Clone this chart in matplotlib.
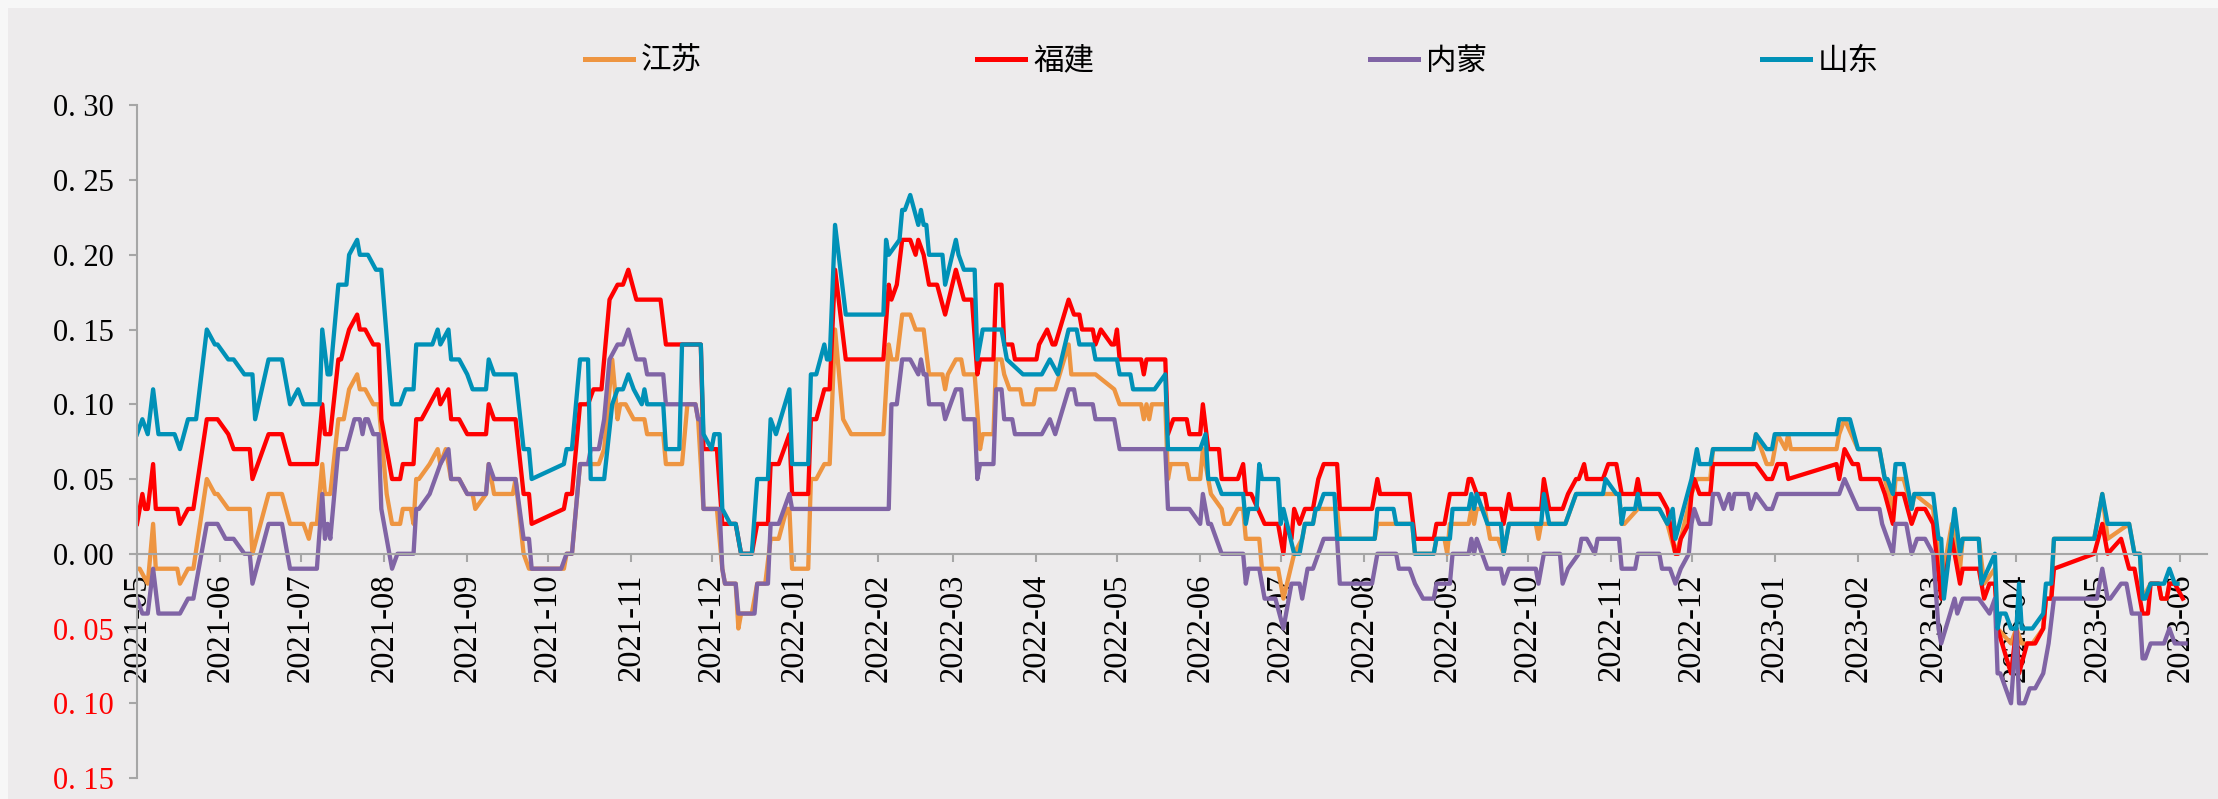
import matplotlib
matplotlib.use("Agg")
import matplotlib.pyplot as plt
import matplotlib.dates as mdates
import pandas as pd
from matplotlib.patches import Rectangle
from matplotlib.font_manager import FontProperties

# 江苏
js_dates = [
    "2021-05-01", "2021-05-02", "2021-05-05", "2021-05-07", "2021-05-08", "2021-05-16", "2021-05-17",
    "2021-05-20", "2021-05-22", "2021-05-27", "2021-05-30", "2021-05-31", "2021-06-04", "2021-06-12",
    "2021-06-13", "2021-06-19", "2021-06-24", "2021-06-27", "2021-07-02", "2021-07-04", "2021-07-05",
    "2021-07-07", "2021-07-09", "2021-07-10", "2021-07-12", "2021-07-15", "2021-07-17", "2021-07-19",
    "2021-07-22", "2021-07-23", "2021-07-25", "2021-07-28", "2021-07-30", "2021-08-02", "2021-08-04",
    "2021-08-07", "2021-08-08", "2021-08-11", "2021-08-12", "2021-08-13", "2021-08-14", "2021-08-18",
    "2021-08-21", "2021-08-22", "2021-08-24", "2021-08-26", "2021-08-29", "2021-09-01", "2021-09-03",
    "2021-09-04", "2021-09-08", "2021-09-09", "2021-09-11", "2021-09-18", "2021-09-19", "2021-09-22",
    "2021-09-24", "2021-10-07", "2021-10-08", "2021-10-10", "2021-10-13", "2021-10-20", "2021-10-22",
    "2021-10-25", "2021-10-27", "2021-10-28", "2021-10-30", "2021-11-02", "2021-11-06", "2021-11-07",
    "2021-11-13", "2021-11-14", "2021-11-20", "2021-11-22", "2021-11-25", "2021-11-26", "2021-11-28",
    "2021-12-03", "2021-12-05", "2021-12-06", "2021-12-10", "2021-12-11", "2021-12-12", "2021-12-16",
    "2021-12-18", "2021-12-21", "2021-12-23", "2021-12-26", "2021-12-29", "2021-12-30", "2021-12-31",
    "2022-01-06", "2022-01-07", "2022-01-09", "2022-01-12", "2022-01-14", "2022-01-16", "2022-01-19",
    "2022-01-22", "2022-02-03", "2022-02-05", "2022-02-06", "2022-02-08", "2022-02-10", "2022-02-13",
    "2022-02-15", "2022-02-18", "2022-02-20", "2022-02-25", "2022-02-26", "2022-02-27", "2022-03-02",
    "2022-03-04", "2022-03-05", "2022-03-09", "2022-03-11", "2022-03-12", "2022-03-16", "2022-03-17",
    "2022-03-19", "2022-03-20", "2022-03-22", "2022-03-26", "2022-03-27", "2022-03-31", "2022-04-01",
    "2022-04-08", "2022-04-13", "2022-04-14", "2022-04-23", "2022-04-30", "2022-05-02", "2022-05-10",
    "2022-05-11", "2022-05-12", "2022-05-13", "2022-05-14", "2022-05-19", "2022-05-20", "2022-05-21",
    "2022-05-27", "2022-05-28", "2022-06-01", "2022-06-02", "2022-06-04", "2022-06-05", "2022-06-09",
    "2022-06-10", "2022-06-12", "2022-06-15", "2022-06-17", "2022-06-18", "2022-06-23", "2022-06-24",
    "2022-06-30", "2022-07-02", "2022-07-06", "2022-07-09", "2022-07-10", "2022-07-13", "2022-07-14",
    "2022-07-22", "2022-07-23", "2022-08-05", "2022-08-06", "2022-08-19", "2022-08-20", "2022-08-27",
    "2022-08-28", "2022-08-31", "2022-09-01", "2022-09-02", "2022-09-09", "2022-09-10", "2022-09-11",
    "2022-09-12", "2022-09-15", "2022-09-17", "2022-09-20", "2022-09-22", "2022-09-24", "2022-10-04",
    "2022-10-05", "2022-10-06", "2022-10-09", "2022-10-15", "2022-10-19", "2022-10-29", "2022-11-04",
    "2022-11-05", "2022-11-06", "2022-11-11", "2022-11-19", "2022-11-22", "2022-11-25", "2022-11-27",
    "2022-12-01", "2022-12-03", "2022-12-08", "2022-12-09", "2022-12-24", "2022-12-25", "2022-12-29",
    "2022-12-31", "2023-01-02", "2023-01-05", "2023-01-06", "2023-01-07", "2023-01-24", "2023-01-25",
    "2023-01-27", "2023-02-01", "2023-02-09", "2023-02-11", "2023-02-14", "2023-02-15", "2023-02-18",
    "2023-02-21", "2023-02-22", "2023-03-01", "2023-03-04", "2023-03-08", "2023-03-11", "2023-03-12",
    "2023-03-18", "2023-03-20", "2023-03-24", "2023-03-25", "2023-03-30", "2023-04-01", "2023-04-03",
    "2023-04-07", "2023-04-11", "2023-04-12", "2023-04-14", "2023-04-15", "2023-04-30", "2023-05-03",
    "2023-05-05", "2023-05-13", "2023-05-15", "2023-05-17", "2023-05-18", "2023-05-21", "2023-05-24",
    "2023-05-25", "2023-05-27", "2023-05-28", "2023-05-31",
]
js_vals = [
    -0.01, -0.01, -0.02, 0.02, -0.01, -0.01, -0.02,
    -0.01, -0.01, 0.05, 0.04, 0.04, 0.03, 0.03,
    0.00, 0.04, 0.04, 0.02, 0.02, 0.01, 0.02,
    0.02, 0.06, 0.04, 0.04, 0.09, 0.09, 0.11,
    0.12, 0.11, 0.11, 0.10, 0.10, 0.04, 0.02,
    0.02, 0.03, 0.03, 0.02, 0.05, 0.05, 0.06,
    0.07, 0.06, 0.07, 0.05, 0.05, 0.04, 0.04,
    0.03, 0.04, 0.06, 0.04, 0.04, 0.05, 0.00,
    -0.01, -0.01, 0.00, 0.00, 0.06, 0.06, 0.07,
    0.13, 0.09, 0.10, 0.10, 0.09, 0.09, 0.08,
    0.08, 0.06, 0.06, 0.10, 0.10, 0.09, 0.03,
    0.03, -0.01, -0.02, -0.02, -0.05, -0.04, -0.04,
    -0.02, -0.02, 0.01, 0.01, 0.03, 0.03, -0.01,
    -0.01, 0.05, 0.05, 0.06, 0.06, 0.15, 0.09,
    0.08, 0.08, 0.14, 0.13, 0.13, 0.16, 0.16,
    0.15, 0.15, 0.12, 0.12, 0.11, 0.12, 0.13,
    0.13, 0.12, 0.12, 0.07, 0.08, 0.08, 0.13,
    0.13, 0.12, 0.11, 0.11, 0.10, 0.10, 0.11,
    0.11, 0.14, 0.12, 0.12, 0.11, 0.10, 0.10,
    0.09, 0.10, 0.09, 0.10, 0.10, 0.05, 0.06,
    0.06, 0.05, 0.05, 0.07, 0.05, 0.04, 0.03,
    0.02, 0.02, 0.03, 0.03, 0.01, 0.01, -0.01,
    -0.01, -0.03, 0.00, 0.01, 0.02, 0.02, 0.03,
    0.03, 0.01, 0.01, 0.02, 0.02, 0.00, 0.00,
    0.01, 0.01, 0.00, 0.02, 0.02, 0.03, 0.02,
    0.03, 0.03, 0.01, 0.01, 0.00, 0.02, 0.02,
    0.01, 0.02, 0.02, 0.02, 0.04, 0.04, 0.04,
    0.02, 0.02, 0.03, 0.03, 0.02, 0.00, 0.01,
    0.04, 0.05, 0.05, 0.07, 0.07, 0.08, 0.06,
    0.06, 0.08, 0.07, 0.08, 0.07, 0.07, 0.08,
    0.09, 0.07, 0.07, 0.05, 0.03, 0.05, 0.05,
    0.03, 0.04, 0.03, -0.02, 0.02, -0.01, 0.01,
    0.01, -0.02, -0.01, -0.05, -0.06, -0.05, -0.06,
    -0.06, -0.05, -0.03, -0.03, 0.01, 0.01, 0.04,
    0.01, 0.02, 0.00, 0.00, -0.03, -0.02, -0.02,
    -0.03, -0.03, -0.02, -0.02,
]

# 福建
fj_dates = [
    "2021-05-01", "2021-05-03", "2021-05-04", "2021-05-05", "2021-05-07", "2021-05-08", "2021-05-16",
    "2021-05-17", "2021-05-20", "2021-05-22", "2021-05-27", "2021-05-31", "2021-06-04", "2021-06-06",
    "2021-06-12", "2021-06-13", "2021-06-19", "2021-06-24", "2021-06-27", "2021-07-07", "2021-07-09",
    "2021-07-10", "2021-07-12", "2021-07-15", "2021-07-16", "2021-07-19", "2021-07-22", "2021-07-23",
    "2021-07-25", "2021-07-28", "2021-07-30", "2021-07-31", "2021-08-04", "2021-08-07", "2021-08-08",
    "2021-08-12", "2021-08-13", "2021-08-15", "2021-08-18", "2021-08-21", "2021-08-22", "2021-08-25",
    "2021-08-26", "2021-08-29", "2021-09-01", "2021-09-08", "2021-09-09", "2021-09-11", "2021-09-19",
    "2021-09-22", "2021-09-24", "2021-09-25", "2021-10-07", "2021-10-08", "2021-10-10", "2021-10-13",
    "2021-10-16", "2021-10-18", "2021-10-21", "2021-10-22", "2021-10-24", "2021-10-27", "2021-10-29",
    "2021-10-31", "2021-11-03", "2021-11-12", "2021-11-14", "2021-11-27", "2021-11-28", "2021-12-03",
    "2021-12-05", "2021-12-10", "2021-12-12", "2021-12-16", "2021-12-18", "2021-12-22", "2021-12-23",
    "2021-12-26", "2021-12-30", "2021-12-31", "2022-01-06", "2022-01-07", "2022-01-09", "2022-01-12",
    "2022-01-14", "2022-01-16", "2022-01-20", "2022-02-03", "2022-02-05", "2022-02-06", "2022-02-08",
    "2022-02-10", "2022-02-13", "2022-02-15", "2022-02-16", "2022-02-18", "2022-02-20", "2022-02-23",
    "2022-02-26", "2022-03-02", "2022-03-05", "2022-03-08", "2022-03-10", "2022-03-11", "2022-03-16",
    "2022-03-17", "2022-03-19", "2022-03-20", "2022-03-23", "2022-03-24", "2022-04-01", "2022-04-02",
    "2022-04-05", "2022-04-07", "2022-04-08", "2022-04-13", "2022-04-15", "2022-04-17", "2022-04-18",
    "2022-04-22", "2022-04-23", "2022-04-25", "2022-04-29", "2022-04-30", "2022-05-01", "2022-05-02",
    "2022-05-10", "2022-05-11", "2022-05-12", "2022-05-19", "2022-05-20", "2022-05-22", "2022-05-27",
    "2022-05-28", "2022-06-01", "2022-06-02", "2022-06-04", "2022-06-08", "2022-06-09", "2022-06-15",
    "2022-06-17", "2022-06-18", "2022-06-20", "2022-06-25", "2022-06-30", "2022-07-02", "2022-07-03",
    "2022-07-05", "2022-07-06", "2022-07-08", "2022-07-10", "2022-07-13", "2022-07-15", "2022-07-17",
    "2022-07-22", "2022-07-23", "2022-08-04", "2022-08-06", "2022-08-07", "2022-08-18", "2022-08-20",
    "2022-08-27", "2022-08-28", "2022-08-31", "2022-09-02", "2022-09-08", "2022-09-09", "2022-09-10",
    "2022-09-12", "2022-09-15", "2022-09-16", "2022-09-21", "2022-09-22", "2022-09-24", "2022-09-25",
    "2022-10-06", "2022-10-07", "2022-10-09", "2022-10-14", "2022-10-16", "2022-10-19", "2022-10-20",
    "2022-10-22", "2022-10-23", "2022-10-29", "2022-10-31", "2022-11-03", "2022-11-05", "2022-11-10",
    "2022-11-11", "2022-11-12", "2022-11-19", "2022-11-22", "2022-11-25", "2022-11-26", "2022-11-27",
    "2022-11-30", "2022-12-01", "2022-12-02", "2022-12-04", "2022-12-08", "2022-12-09", "2022-12-25",
    "2022-12-29", "2022-12-31", "2023-01-02", "2023-01-05", "2023-01-06", "2023-01-24", "2023-01-25",
    "2023-01-26", "2023-01-27", "2023-01-30", "2023-02-01", "2023-02-02", "2023-02-09", "2023-02-11",
    "2023-02-14", "2023-02-15", "2023-02-18", "2023-02-21", "2023-02-23", "2023-02-26", "2023-03-01",
    "2023-03-04", "2023-03-08", "2023-03-11", "2023-03-12", "2023-03-18", "2023-03-20", "2023-03-22",
    "2023-03-24", "2023-03-25", "2023-03-30", "2023-04-01", "2023-04-02", "2023-04-05", "2023-04-08",
    "2023-04-11", "2023-04-12", "2023-04-14", "2023-04-15", "2023-04-30", "2023-05-03", "2023-05-05",
    "2023-05-10", "2023-05-13", "2023-05-15", "2023-05-18", "2023-05-20", "2023-05-21", "2023-05-24",
    "2023-05-25", "2023-05-27", "2023-05-28", "2023-05-30", "2023-06-02",
]
fj_vals = [
    0.02, 0.04, 0.03, 0.03, 0.06, 0.03, 0.03,
    0.02, 0.03, 0.03, 0.09, 0.09, 0.08, 0.07,
    0.07, 0.05, 0.08, 0.08, 0.06, 0.06, 0.10,
    0.08, 0.08, 0.13, 0.13, 0.15, 0.16, 0.15,
    0.15, 0.14, 0.14, 0.09, 0.05, 0.05, 0.06,
    0.06, 0.09, 0.09, 0.10, 0.11, 0.10, 0.11,
    0.09, 0.09, 0.08, 0.08, 0.10, 0.09, 0.09,
    0.04, 0.04, 0.02, 0.03, 0.04, 0.04, 0.10,
    0.10, 0.11, 0.11, 0.13, 0.17, 0.18, 0.18,
    0.19, 0.17, 0.17, 0.14, 0.14, 0.07, 0.07,
    0.02, 0.02, 0.00, 0.00, 0.02, 0.02, 0.06,
    0.06, 0.08, 0.04, 0.04, 0.09, 0.09, 0.11,
    0.11, 0.19, 0.13, 0.13, 0.18, 0.17, 0.18,
    0.21, 0.21, 0.20, 0.21, 0.20, 0.18, 0.18,
    0.16, 0.19, 0.17, 0.17, 0.12, 0.13, 0.13,
    0.18, 0.18, 0.14, 0.14, 0.13, 0.13, 0.14,
    0.15, 0.14, 0.14, 0.17, 0.16, 0.16, 0.15,
    0.15, 0.14, 0.15, 0.14, 0.14, 0.15, 0.13,
    0.13, 0.12, 0.13, 0.13, 0.08, 0.09, 0.09,
    0.08, 0.08, 0.10, 0.07, 0.07, 0.05, 0.05,
    0.06, 0.04, 0.04, 0.02, 0.02, 0.00, 0.02,
    0.01, 0.03, 0.02, 0.03, 0.03, 0.05, 0.06,
    0.06, 0.03, 0.03, 0.05, 0.04, 0.04, 0.01,
    0.01, 0.02, 0.02, 0.04, 0.04, 0.05, 0.05,
    0.04, 0.04, 0.03, 0.03, 0.02, 0.04, 0.03,
    0.03, 0.05, 0.03, 0.03, 0.04, 0.05, 0.05,
    0.06, 0.05, 0.05, 0.06, 0.06, 0.04, 0.04,
    0.05, 0.04, 0.04, 0.03, 0.00, 0.00, 0.01,
    0.02, 0.04, 0.05, 0.04, 0.04, 0.06, 0.06,
    0.05, 0.05, 0.06, 0.06, 0.05, 0.06, 0.05,
    0.06, 0.07, 0.06, 0.06, 0.05, 0.05, 0.04,
    0.02, 0.04, 0.04, 0.02, 0.03, 0.03, 0.02,
    -0.03, 0.01, -0.02, -0.01, -0.01, -0.03, -0.02,
    -0.02, -0.05, -0.08, -0.05, -0.08, -0.06, -0.06,
    -0.05, -0.03, -0.03, -0.01, 0.00, 0.02, 0.00,
    0.01, -0.01, -0.01, -0.04, -0.04, -0.02, -0.02,
    -0.03, -0.03, -0.02, -0.02, -0.03,
]

# 内蒙
nm_dates = [
    "2021-05-01", "2021-05-03", "2021-05-05", "2021-05-07", "2021-05-09", "2021-05-17", "2021-05-20",
    "2021-05-22", "2021-05-27", "2021-05-31", "2021-06-03", "2021-06-06", "2021-06-10", "2021-06-12",
    "2021-06-13", "2021-06-19", "2021-06-24", "2021-06-27", "2021-07-07", "2021-07-09", "2021-07-10",
    "2021-07-11", "2021-07-12", "2021-07-15", "2021-07-18", "2021-07-21", "2021-07-23", "2021-07-24",
    "2021-07-25", "2021-07-26", "2021-07-28", "2021-07-30", "2021-07-31", "2021-08-04", "2021-08-06",
    "2021-08-12", "2021-08-13", "2021-08-14", "2021-08-18", "2021-08-20", "2021-08-22", "2021-08-25",
    "2021-08-26", "2021-08-29", "2021-09-01", "2021-09-08", "2021-09-09", "2021-09-11", "2021-09-19",
    "2021-09-22", "2021-09-24", "2021-09-25", "2021-10-06", "2021-10-08", "2021-10-10", "2021-10-13",
    "2021-10-16", "2021-10-17", "2021-10-20", "2021-10-22", "2021-10-24", "2021-10-27", "2021-10-29",
    "2021-10-31", "2021-11-03", "2021-11-06", "2021-11-07", "2021-11-13", "2021-11-14", "2021-11-25",
    "2021-11-26", "2021-11-27", "2021-11-28", "2021-12-04", "2021-12-05", "2021-12-06", "2021-12-10",
    "2021-12-11", "2021-12-17", "2021-12-18", "2021-12-22", "2021-12-23", "2021-12-26", "2021-12-30",
    "2021-12-31", "2022-02-05", "2022-02-06", "2022-02-08", "2022-02-10", "2022-02-13", "2022-02-16",
    "2022-02-17", "2022-02-18", "2022-02-19", "2022-02-20", "2022-02-25", "2022-02-26", "2022-03-02",
    "2022-03-04", "2022-03-05", "2022-03-09", "2022-03-10", "2022-03-11", "2022-03-16", "2022-03-17",
    "2022-03-19", "2022-03-20", "2022-03-23", "2022-03-24", "2022-04-03", "2022-04-06", "2022-04-08",
    "2022-04-13", "2022-04-15", "2022-04-16", "2022-04-22", "2022-04-23", "2022-04-30", "2022-05-02",
    "2022-05-19", "2022-05-20", "2022-05-28", "2022-06-01", "2022-06-02", "2022-06-04", "2022-06-05",
    "2022-06-09", "2022-06-17", "2022-06-18", "2022-06-19", "2022-06-23", "2022-06-25", "2022-06-29",
    "2022-07-02", "2022-07-04", "2022-07-05", "2022-07-08", "2022-07-09", "2022-07-11", "2022-07-13",
    "2022-07-15", "2022-07-17", "2022-07-22", "2022-07-23", "2022-08-04", "2022-08-06", "2022-08-13",
    "2022-08-14", "2022-08-18", "2022-08-20", "2022-08-23", "2022-08-27", "2022-08-28", "2022-09-02",
    "2022-09-03", "2022-09-09", "2022-09-10", "2022-09-11", "2022-09-12", "2022-09-14", "2022-09-16",
    "2022-09-21", "2022-09-22", "2022-09-24", "2022-10-04", "2022-10-05", "2022-10-07", "2022-10-13",
    "2022-10-14", "2022-10-16", "2022-10-20", "2022-10-21", "2022-10-23", "2022-10-26", "2022-10-27",
    "2022-11-04", "2022-11-05", "2022-11-10", "2022-11-11", "2022-11-19", "2022-11-20", "2022-11-23",
    "2022-11-25", "2022-11-27", "2022-11-30", "2022-12-01", "2022-12-02", "2022-12-04", "2022-12-08",
    "2022-12-09", "2022-12-11", "2022-12-13", "2022-12-15", "2022-12-16", "2022-12-17", "2022-12-22",
    "2022-12-23", "2022-12-25", "2022-12-29", "2022-12-31", "2023-01-02", "2023-01-25", "2023-01-27",
    "2023-02-01", "2023-02-09", "2023-02-10", "2023-02-12", "2023-02-14", "2023-02-15", "2023-02-19",
    "2023-02-21", "2023-02-23", "2023-02-26", "2023-03-01", "2023-03-03", "2023-03-04", "2023-03-09",
    "2023-03-10", "2023-03-12", "2023-03-18", "2023-03-22", "2023-03-24", "2023-03-25", "2023-03-26",
    "2023-03-30", "2023-04-01", "2023-04-02", "2023-04-04", "2023-04-06", "2023-04-08", "2023-04-11",
    "2023-04-13", "2023-04-15", "2023-05-01", "2023-05-03", "2023-05-05", "2023-05-06", "2023-05-10",
    "2023-05-12", "2023-05-14", "2023-05-17", "2023-05-18", "2023-05-19", "2023-05-21", "2023-05-26",
    "2023-05-28", "2023-05-30", "2023-06-03",
]
nm_vals = [
    -0.03, -0.04, -0.04, -0.01, -0.04, -0.04, -0.03,
    -0.03, 0.02, 0.02, 0.01, 0.01, 0.00, 0.00,
    -0.02, 0.02, 0.02, -0.01, -0.01, 0.04, 0.01,
    0.02, 0.01, 0.07, 0.07, 0.09, 0.09, 0.08,
    0.09, 0.09, 0.08, 0.08, 0.03, -0.01, 0.00,
    0.00, 0.03, 0.03, 0.04, 0.05, 0.06, 0.07,
    0.05, 0.05, 0.04, 0.04, 0.06, 0.05, 0.05,
    0.01, 0.01, -0.01, -0.01, 0.00, 0.00, 0.06,
    0.06, 0.07, 0.07, 0.09, 0.13, 0.14, 0.14,
    0.15, 0.13, 0.13, 0.12, 0.12, 0.10, 0.10,
    0.09, 0.09, 0.03, 0.03, -0.01, -0.02, -0.02,
    -0.04, -0.04, -0.02, -0.02, 0.02, 0.02, 0.04,
    0.03, 0.03, 0.10, 0.10, 0.13, 0.13, 0.12,
    0.13, 0.12, 0.12, 0.10, 0.10, 0.09, 0.11,
    0.11, 0.09, 0.09, 0.05, 0.06, 0.06, 0.11,
    0.11, 0.09, 0.09, 0.08, 0.08, 0.09, 0.08,
    0.11, 0.11, 0.10, 0.10, 0.09, 0.09, 0.07,
    0.07, 0.03, 0.03, 0.02, 0.04, 0.02, 0.02,
    0.00, 0.00, -0.02, -0.01, -0.01, -0.03, -0.03,
    -0.05, -0.03, -0.02, -0.02, -0.03, -0.01, -0.01,
    0.00, 0.01, 0.01, -0.02, -0.02, 0.00, 0.00,
    -0.01, -0.01, -0.02, -0.03, -0.03, -0.02, -0.02,
    0.00, 0.00, 0.01, 0.00, 0.01, 0.00, -0.01,
    -0.01, -0.02, -0.01, -0.01, -0.02, 0.00, 0.00,
    -0.02, -0.01, 0.00, 0.01, 0.01, 0.00, 0.01,
    0.01, -0.01, -0.01, 0.00, 0.00, -0.01, -0.01,
    -0.02, -0.01, 0.00, 0.02, 0.03, 0.02, 0.02,
    0.04, 0.04, 0.03, 0.04, 0.03, 0.04, 0.04,
    0.03, 0.04, 0.03, 0.03, 0.04, 0.04, 0.05,
    0.03, 0.03, 0.02, 0.01, 0.00, 0.02, 0.02,
    0.00, 0.01, 0.01, 0.00, -0.05, -0.06, -0.03,
    -0.04, -0.03, -0.03, -0.04, -0.03, -0.08, -0.08,
    -0.10, -0.05, -0.10, -0.10, -0.09, -0.09, -0.08,
    -0.06, -0.03, -0.03, -0.01, -0.03, -0.03, -0.02,
    -0.02, -0.04, -0.04, -0.07, -0.07, -0.06, -0.06,
    -0.05, -0.06, -0.06,
]

# 山东
sd_dates = [
    "2021-05-01", "2021-05-03", "2021-05-05", "2021-05-07", "2021-05-09", "2021-05-15", "2021-05-17",
    "2021-05-20", "2021-05-23", "2021-05-27", "2021-05-30", "2021-05-31", "2021-06-04", "2021-06-06",
    "2021-06-10", "2021-06-13", "2021-06-14", "2021-06-19", "2021-06-24", "2021-06-27", "2021-06-30",
    "2021-07-02", "2021-07-08", "2021-07-09", "2021-07-11", "2021-07-12", "2021-07-15", "2021-07-18",
    "2021-07-19", "2021-07-22", "2021-07-23", "2021-07-26", "2021-07-29", "2021-07-31", "2021-08-04",
    "2021-08-07", "2021-08-09", "2021-08-12", "2021-08-13", "2021-08-19", "2021-08-21", "2021-08-22",
    "2021-08-25", "2021-08-26", "2021-08-29", "2021-09-01", "2021-09-03", "2021-09-08", "2021-09-09",
    "2021-09-11", "2021-09-19", "2021-09-22", "2021-09-24", "2021-09-25", "2021-10-07", "2021-10-08",
    "2021-10-10", "2021-10-13", "2021-10-16", "2021-10-17", "2021-10-22", "2021-10-25", "2021-10-27",
    "2021-10-29", "2021-10-31", "2021-11-02", "2021-11-05", "2021-11-06", "2021-11-07", "2021-11-13",
    "2021-11-14", "2021-11-19", "2021-11-20", "2021-11-27", "2021-11-28", "2021-12-01", "2021-12-02",
    "2021-12-04", "2021-12-05", "2021-12-08", "2021-12-10", "2021-12-12", "2021-12-16", "2021-12-18",
    "2021-12-22", "2021-12-23", "2021-12-25", "2021-12-30", "2021-12-31", "2022-01-06", "2022-01-07",
    "2022-01-09", "2022-01-12", "2022-01-13", "2022-01-14", "2022-01-16", "2022-01-20", "2022-02-03",
    "2022-02-04", "2022-02-05", "2022-02-09", "2022-02-10", "2022-02-11", "2022-02-13", "2022-02-16",
    "2022-02-17", "2022-02-18", "2022-02-19", "2022-02-20", "2022-02-25", "2022-02-26", "2022-03-02",
    "2022-03-03", "2022-03-05", "2022-03-09", "2022-03-10", "2022-03-12", "2022-03-19", "2022-03-21",
    "2022-03-27", "2022-04-03", "2022-04-06", "2022-04-09", "2022-04-13", "2022-04-16", "2022-04-17",
    "2022-04-22", "2022-04-23", "2022-05-01", "2022-05-02", "2022-05-06", "2022-05-07", "2022-05-15",
    "2022-05-19", "2022-05-20", "2022-06-01", "2022-06-03", "2022-06-04", "2022-06-07", "2022-06-09",
    "2022-06-17", "2022-06-18", "2022-06-19", "2022-06-22", "2022-06-23", "2022-06-24", "2022-06-30",
    "2022-07-01", "2022-07-02", "2022-07-06", "2022-07-08", "2022-07-10", "2022-07-13", "2022-07-14",
    "2022-07-15", "2022-07-17", "2022-07-21", "2022-07-22", "2022-08-05", "2022-08-06", "2022-08-12",
    "2022-08-13", "2022-08-19", "2022-08-20", "2022-08-27", "2022-08-28", "2022-09-02", "2022-09-03",
    "2022-09-09", "2022-09-10", "2022-09-11", "2022-09-12", "2022-09-16", "2022-09-21", "2022-09-22",
    "2022-09-24", "2022-10-06", "2022-10-07", "2022-10-09", "2022-10-15", "2022-10-19", "2022-10-29",
    "2022-10-30", "2022-11-03", "2022-11-04", "2022-11-05", "2022-11-06", "2022-11-10", "2022-11-11",
    "2022-11-12", "2022-11-19", "2022-11-22", "2022-11-24", "2022-11-25", "2022-12-01", "2022-12-03",
    "2022-12-04", "2022-12-08", "2022-12-09", "2022-12-24", "2022-12-25", "2022-12-29", "2022-12-31",
    "2023-01-01", "2023-01-24", "2023-01-25", "2023-01-29", "2023-02-01", "2023-02-09", "2023-02-11",
    "2023-02-12", "2023-02-14", "2023-02-15", "2023-02-18", "2023-02-21", "2023-02-22", "2023-03-01",
    "2023-03-03", "2023-03-04", "2023-03-05", "2023-03-09", "2023-03-11", "2023-03-12", "2023-03-18",
    "2023-03-19", "2023-03-24", "2023-03-25", "2023-03-26", "2023-03-28", "2023-03-30", "2023-04-01",
    "2023-04-02", "2023-04-03", "2023-04-07", "2023-04-11", "2023-04-12", "2023-04-14", "2023-04-15",
    "2023-04-30", "2023-05-03", "2023-05-05", "2023-05-13", "2023-05-15", "2023-05-17", "2023-05-18",
    "2023-05-19", "2023-05-21", "2023-05-26", "2023-05-28", "2023-05-30", "2023-05-31",
]
sd_vals = [
    0.08, 0.09, 0.08, 0.11, 0.08, 0.08, 0.07,
    0.09, 0.09, 0.15, 0.14, 0.14, 0.13, 0.13,
    0.12, 0.12, 0.09, 0.13, 0.13, 0.10, 0.11,
    0.10, 0.10, 0.15, 0.12, 0.12, 0.18, 0.18,
    0.20, 0.21, 0.20, 0.20, 0.19, 0.19, 0.10,
    0.10, 0.11, 0.11, 0.14, 0.14, 0.15, 0.14,
    0.15, 0.13, 0.13, 0.12, 0.11, 0.11, 0.13,
    0.12, 0.12, 0.07, 0.07, 0.05, 0.06, 0.07,
    0.07, 0.13, 0.13, 0.05, 0.05, 0.10, 0.11,
    0.11, 0.12, 0.11, 0.10, 0.11, 0.10, 0.10,
    0.07, 0.07, 0.14, 0.14, 0.08, 0.07, 0.08,
    0.08, 0.03, 0.02, 0.02, 0.00, 0.00, 0.05,
    0.05, 0.09, 0.08, 0.11, 0.06, 0.06, 0.12,
    0.12, 0.14, 0.13, 0.13, 0.22, 0.16, 0.16,
    0.21, 0.20, 0.21, 0.23, 0.23, 0.24, 0.22,
    0.23, 0.22, 0.22, 0.20, 0.20, 0.18, 0.21,
    0.20, 0.19, 0.19, 0.13, 0.15, 0.15, 0.13,
    0.12, 0.12, 0.13, 0.12, 0.15, 0.15, 0.14,
    0.14, 0.13, 0.13, 0.12, 0.12, 0.11, 0.11,
    0.12, 0.07, 0.07, 0.08, 0.05, 0.05, 0.04,
    0.04, 0.02, 0.03, 0.03, 0.06, 0.05, 0.05,
    0.02, 0.03, 0.00, 0.00, 0.02, 0.02, 0.03,
    0.03, 0.04, 0.04, 0.01, 0.01, 0.03, 0.03,
    0.02, 0.02, 0.00, 0.00, 0.01, 0.01, 0.03,
    0.03, 0.04, 0.03, 0.04, 0.02, 0.02, 0.00,
    0.02, 0.02, 0.04, 0.02, 0.02, 0.04, 0.04,
    0.05, 0.04, 0.04, 0.02, 0.03, 0.03, 0.04,
    0.03, 0.03, 0.02, 0.03, 0.01, 0.05, 0.07,
    0.06, 0.06, 0.07, 0.07, 0.08, 0.07, 0.07,
    0.08, 0.08, 0.09, 0.09, 0.07, 0.07, 0.05,
    0.05, 0.04, 0.06, 0.06, 0.03, 0.04, 0.04,
    0.01, 0.01, -0.03, 0.03, 0.00, 0.01, 0.01,
    -0.02, 0.00, -0.05, -0.04, -0.04, -0.05, -0.05,
    -0.02, -0.05, -0.05, -0.04, -0.02, -0.02, 0.01,
    0.01, 0.04, 0.02, 0.02, 0.00, 0.00, -0.03,
    -0.03, -0.02, -0.02, -0.01, -0.02, -0.02,
]

series = [
    ("江苏", js_dates, js_vals, "#EE9541"),
    ("福建", fj_dates, fj_vals, "#FF0000"),
    ("内蒙", nm_dates, nm_vals, "#8064A5"),
    ("山东", sd_dates, sd_vals, "#0091B7"),
]

y_ticks = [-0.15, -0.10, -0.05, 0.00, 0.05, 0.10, 0.15, 0.20, 0.25, 0.30]

W, H = 2218, 799
fig = plt.figure(figsize=(W / 100, H / 100), dpi=100)
fig.patch.set_facecolor("#F7F7F7")
# grey chart area, leaving a thin light strip on the top and left
fig.add_artist(Rectangle((8 / W, 0), 1, 1 - 8 / H, transform=fig.transFigure,
                         facecolor="#EDEBEC", edgecolor="none", zorder=-10))

ax = fig.add_axes([137 / W, 21 / H, (2207 - 137) / W, (778 - 105.3) / H])
ax.set_zorder(1)
ax.set_facecolor("none")

lines = []
for name, d, v, c in series:
    ln, = ax.plot(pd.to_datetime(d), v, color=c, lw=3.1, label=name)
    lines.append(ln)

ax.set_xlim(pd.Timestamp("2021-05-01"), pd.Timestamp("2023-06-11"))
ax.set_ylim(-0.15, 0.30)

for s in ["top", "right"]:
    ax.spines[s].set_visible(False)
ax.spines["bottom"].set_position(("data", 0))
for s in ["left", "bottom"]:
    ax.spines[s].set_color("#A6A6A6")
    ax.spines[s].set_linewidth(1.5)

ax.xaxis.set_major_locator(mdates.MonthLocator())
ax.xaxis.set_major_formatter(mdates.DateFormatter("%Y-%m"))
ax.tick_params(axis="x", direction="out", length=6, width=1.5, color="#A6A6A6", pad=8)
for lab in ax.get_xticklabels():
    lab.set_rotation(90)
    lab.set_fontfamily("Liberation Serif")
    lab.set_fontsize(23.5)
    lab.set_va("top")
    lab.set_ha("center")

ax.set_yticks(y_ticks)
ax.set_yticklabels([("%.2f" % abs(t)).replace(".", ". ") for t in y_ticks])
ax.tick_params(axis="y", direction="out", length=6, width=1.5, color="#A6A6A6", pad=11)
for lab, t in zip(ax.get_yticklabels(), y_ticks):
    lab.set_fontfamily("Liberation Serif")
    lab.set_fontsize(22)
    lab.set_color("#FF0000" if t < 0 else "black")

leg = fig.legend(lines, [s[0] for s in series], loc="center",
                 bbox_to_anchor=(1232 / W, 1 - 61 / H), ncol=4, frameon=False,
                 prop=FontProperties(family="Noto Sans CJK SC", size=22),
                 handlelength=1.57, handletextpad=0.25, columnspacing=9.03)
for h in leg.get_lines():
    h.set_linewidth(3.6)

fig.savefig("out.png", dpi=100, facecolor=fig.get_facecolor())
